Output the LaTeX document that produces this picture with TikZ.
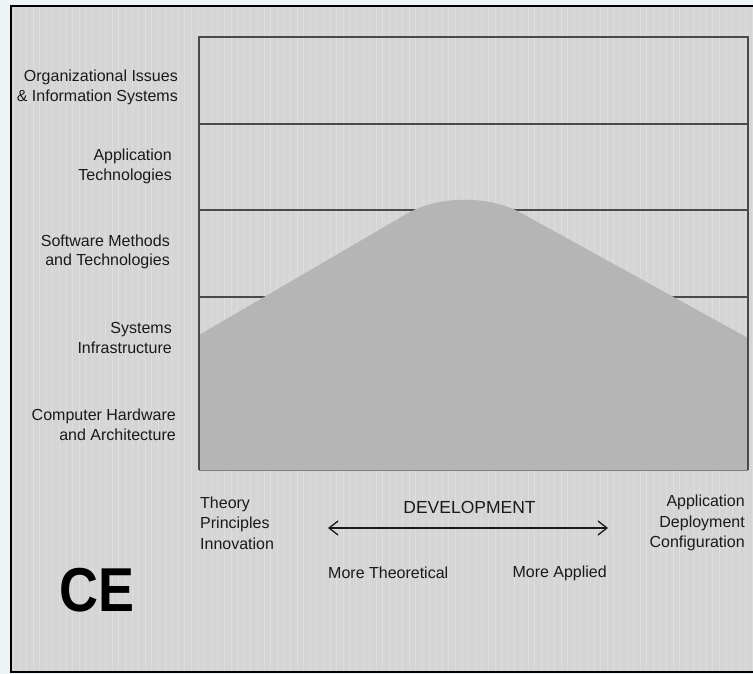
\documentclass[tikz,border=0pt]{standalone}
\usepackage{fontspec}
\setmainfont{Liberation Sans}
\usetikzlibrary{arrows.meta}
\definecolor{outside}{HTML}{EEF3F5}
\definecolor{paper}{HTML}{D5D5D5}
\definecolor{gridc}{HTML}{DDDDDD}
\definecolor{mount}{HTML}{B5B5B5}
\definecolor{boxline}{HTML}{4A4A4A}
\definecolor{txt}{HTML}{1A1A1A}
\tikzset{
  lbl/.style={inner sep=0pt, text=txt, font=\fontsize{16}{19.5}\selectfont},
  rlbl/.style={lbl, align=right, anchor=east},
  llbl/.style={lbl, align=left, anchor=west},
  band/.style={draw=boxline, line width=1.3pt},
  devarrow/.style={draw=txt, line width=1.3pt, {Straight Barb[length=9pt,width=14pt,line width=1.3pt]}-{Straight Barb[length=9pt,width=14pt,line width=1.3pt]}},
}
\begin{document}
\begin{tikzpicture}[x=1pt,y=-1pt]
\useasboundingbox (0,0) rectangle (753,674);
% outside and paper
\fill[outside] (0,0) rectangle (753,674);
\fill[paper] (11,6) rectangle (753,672);
\begin{scope}
\clip (11,6) rectangle (753,672);
\draw[gridc, line width=0.7pt, step=6.6] (11,6) grid (760,680);
\end{scope}
\draw[black, line width=2.5pt] (753,6) -- (11,6) -- (11,672) -- (753,672);
% band separators
\draw[band] (199,124) -- (748,124);
\draw[band] (199,210) -- (748,210);
\draw[band] (199,297) -- (748,297);
% mountain
\fill[mount] (199,335) [rounded corners=65pt] -- (463,181) [sharp corners] -- (748,338) -- (748,470) -- (199,470) -- cycle;
% box
\draw[band] (199,470) -- (199,37) -- (748,37) -- (748,470);
\draw[draw=gray, line width=1pt] (199,470) -- (748,470);
% layer labels
\node[rlbl] (org) at (178,87.5) {Organizational Issues\\\& Information Systems};
\node[rlbl] (app) at (172,166.5) {Application\\Technologies};
\node[rlbl] (sw) at (170,252) {Software Methods\\and Technologies};
\node[rlbl] (sys) at (172,338) {Systems\\Infrastructure};
\node[rlbl] (hw) at (176,425) {Computer Hardware\\and Architecture};
% bottom labels
\node[llbl, font=\fontsize{16}{20.5}\selectfont] (theory) at (200,523) {Theory\\Principles\\Innovation};
\node[rlbl, font=\fontsize{16}{20.5}\selectfont] (applied) at (745,523) {Application\\Deployment\\Configuration};
\node[lbl, font=\fontsize{17.5}{20}\selectfont] (dev) at (469.5,507) {DEVELOPMENT};
\coordinate (aL) at (328,528);
\coordinate (aR) at (608,528);
\draw[devarrow] (aL) -- (aR);
\node[llbl] (moret) at (328,573) {More Theoretical};
\node[rlbl] (morea) at (607,573) {More Applied};
\node[inner sep=0pt, text=black, font=\fontsize{62}{62}\selectfont\bfseries, xscale=0.87] (ce) at (97,590) {CE};
\end{tikzpicture}
\end{document}
